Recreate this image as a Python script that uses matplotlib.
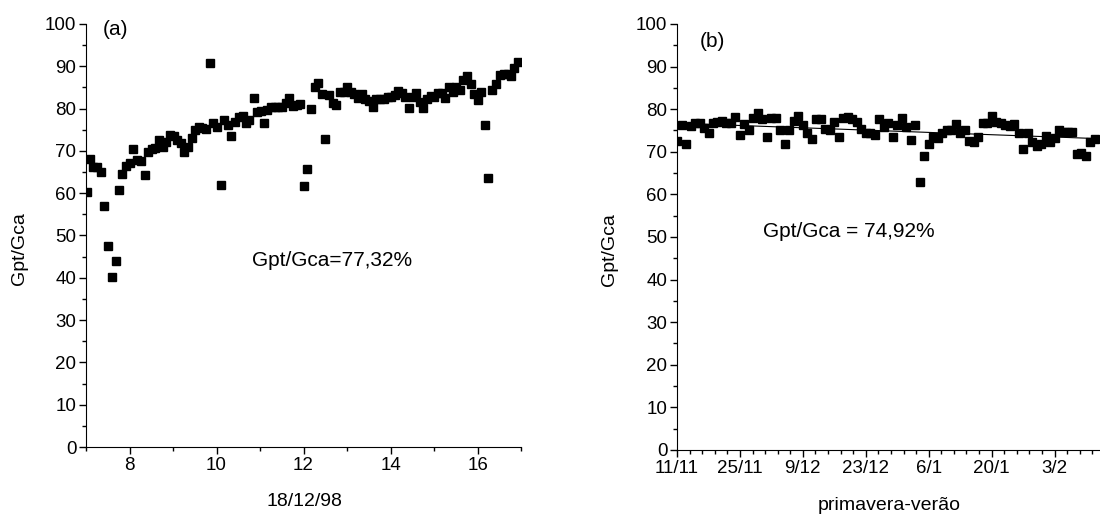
import numpy as np
import matplotlib
matplotlib.use("Agg")
import matplotlib.pyplot as plt
from matplotlib.ticker import MultipleLocator

plt.rcParams['font.family'] = ['Liberation Sans', 'DejaVu Sans']

# (a) 18/12/98 - hour of day vs Gpt/Gca
left_x = [7.03, 7.09, 7.17, 7.26, 7.34, 7.42, 7.51, 7.59, 7.68, 7.76, 7.83, 7.93,
          8.01, 8.09, 8.17, 8.26, 8.35, 8.43, 8.51, 8.59, 8.68, 8.76, 8.84, 8.93,
          9.02, 9.10, 9.18, 9.26, 9.34, 9.43, 9.51, 9.59, 9.67, 9.76, 9.84, 9.93,
          10.01, 10.10, 10.17, 10.26, 10.34, 10.43, 10.51, 10.60, 10.68, 10.75, 10.85, 10.92,
          11.02, 11.09, 11.17, 11.26, 11.34, 11.42, 11.51, 11.59, 11.67, 11.76, 11.84, 11.93,
          12.01, 12.09, 12.17, 12.26, 12.34, 12.43, 12.50, 12.59, 12.67, 12.75, 12.84, 12.92,
          13.00, 13.08, 13.17, 13.25, 13.34, 13.42, 13.51, 13.59, 13.67, 13.76, 13.84, 13.93,
          14.01, 14.10, 14.18, 14.26, 14.34, 14.43, 14.51, 14.59, 14.68, 14.75, 14.84, 14.93,
          15.01, 15.09, 15.18, 15.25, 15.34, 15.43, 15.51, 15.59, 15.67, 15.76, 15.84, 15.92,
          16.00, 16.09, 16.18, 16.23, 16.34, 16.43, 16.52, 16.60, 16.69, 16.77, 16.83, 16.93]
left_y = [60.3, 68.0, 66.2, 66.2, 65.0, 57.0, 47.4, 40.2, 44.0, 60.8, 64.5, 66.4,
          67.1, 70.4, 67.8, 67.7, 64.3, 69.8, 70.4, 70.6, 72.6, 71.0, 72.2, 73.8,
          73.4, 72.6, 71.8, 69.8, 70.8, 73.1, 74.9, 75.6, 75.3, 75.1, 90.7, 76.5,
          75.6, 61.9, 77.4, 76.1, 73.4, 76.9, 77.9, 78.3, 76.7, 77.4, 82.4, 79.3,
          79.4, 76.7, 79.7, 80.3, 80.4, 80.4, 80.3, 81.4, 82.5, 80.6, 80.9, 81.0,
          61.8, 65.6, 79.8, 85.0, 86.1, 83.4, 72.7, 83.2, 81.2, 80.9, 84.0, 84.0,
          85.2, 84.0, 83.5, 82.4, 83.4, 82.3, 81.9, 80.4, 82.2, 82.3, 82.3, 82.8,
          82.8, 83.2, 84.2, 83.8, 82.7, 80.2, 82.7, 83.6, 81.6, 80.1, 82.2, 83.0,
          82.8, 83.8, 83.6, 82.4, 85.0, 84.0, 85.0, 84.4, 86.8, 87.7, 85.8, 83.5,
          82.0, 84.0, 76.1, 63.5, 84.4, 85.7, 87.9, 88.2, 88.1, 87.7, 89.5, 91.0]

# (b) primavera-verão - daily values from 11/11
right_days = np.arange(94)
right_y = [72.6, 76.3, 71.8, 76.1, 76.8, 76.7, 75.5, 74.3, 76.7, 77.1,
           77.3, 76.7, 76.7, 78.1, 73.9, 76.5, 75.1, 77.9, 79.2, 77.7,
           73.5, 78.0, 77.9, 75.0, 71.8, 75.0, 77.3, 78.4, 76.3, 74.3,
           72.9, 77.6, 77.6, 75.4, 75.1, 77.1, 73.5, 77.9, 78.2, 77.6,
           77.1, 75.3, 74.3, 74.5, 73.9, 77.6, 75.7, 76.7, 73.5, 76.3,
           77.9, 75.7, 72.8, 76.3, 63.0, 69.0, 71.8, 73.4, 73.2, 74.3,
           75.1, 75.1, 76.5, 74.5, 75.0, 72.6, 72.4, 73.5, 76.7, 76.8,
           78.4, 77.0, 76.7, 76.3, 76.1, 76.5, 74.5, 70.6, 74.3, 72.4,
           71.4, 71.8, 73.7, 72.4, 73.2, 75.1, 74.7, 74.7, 74.6, 69.5,
           69.8, 69.0, 72.4, 72.9]
right_ticks = [0, 14, 28, 42, 56, 70, 84]
right_ticklabels = ['11/11', '25/11', '9/12', '23/12', '6/1', '20/1', '3/2']

fig = plt.figure(figsize=(11, 5.21), dpi=100)
ax1 = fig.add_axes([0.0782, 0.142, 0.3955, 0.812])
ax2 = fig.add_axes([0.6155, 0.1363, 0.384, 0.8177])

for ax in (ax1, ax2):
    ax.spines['top'].set_visible(False)
    ax.spines['right'].set_visible(False)
    ax.tick_params(which='major', direction='out', length=5, width=1, labelsize=13.5, colors='black', pad=2)
    ax.tick_params(which='minor', direction='out', length=3, width=1)
    ax.set_ylim(0, 100)
    ax.yaxis.set_major_locator(MultipleLocator(10))
    ax.yaxis.set_minor_locator(MultipleLocator(5))
    ax.set_ylabel('Gpt/Gca', fontsize=14)

ax1.plot(left_x, left_y, 's', color='black', markersize=5.8)
ax1.set_xlim(7, 17)
ax1.set_xticks([8, 10, 12, 14, 16])
ax1.xaxis.set_minor_locator(MultipleLocator(1))
ax1.set_xlabel('18/12/98', fontsize=14)
ax1.xaxis.set_label_coords(0.503, -0.109)
ax1.yaxis.set_label_coords(-0.133, 0.47)
ax1.text(0.039, 0.986, '(a)', transform=ax1.transAxes, fontsize=15, va='center')
ax1.text(0.382, 0.44, 'Gpt/Gca=77,32%', transform=ax1.transAxes, fontsize=15, va='center')

# linear trend for (b)
coef = np.polyfit(right_days, right_y, 1)
ax2.plot(right_days, np.polyval(coef, right_days), color='black', linewidth=0.8)
ax2.plot(right_days, right_y, 's', color='black', markersize=5.8)
ax2.set_xlim(0, 94)
ax2.set_xticks(right_ticks)
ax2.set_xticklabels(right_ticklabels)
ax2.xaxis.set_minor_locator(MultipleLocator(2.8))
ax2.set_xlabel('primavera-verão', fontsize=14)
ax2.xaxis.set_label_coords(0.503, -0.110)
ax2.yaxis.set_label_coords(-0.139, 0.47)
ax2.text(0.054, 0.958, '(b)', transform=ax2.transAxes, fontsize=15, va='center')
ax2.text(0.203, 0.512, 'Gpt/Gca = 74,92%', transform=ax2.transAxes, fontsize=15, va='center')

fig.savefig('out.png', dpi=100)
